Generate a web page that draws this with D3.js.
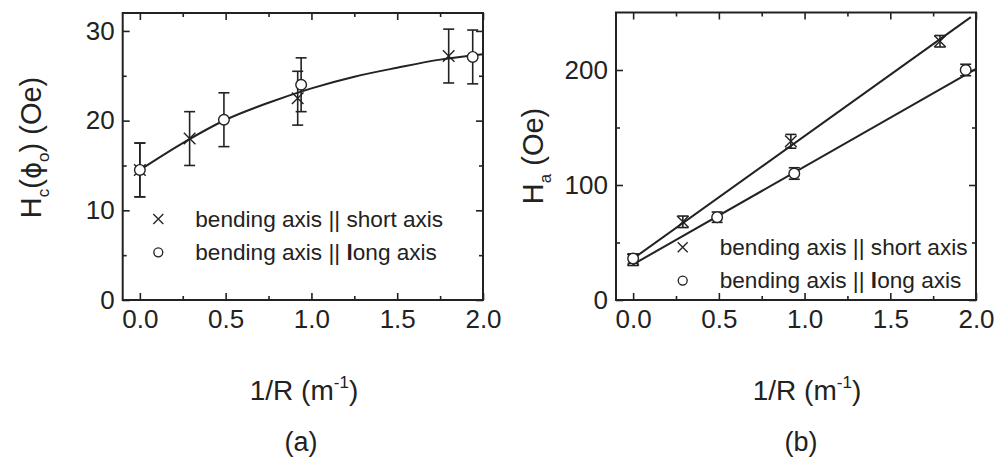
<!DOCTYPE html>
<html>
<head>
<meta charset="utf-8">
<script src="https://cdn.jsdelivr.net/npm/d3@7"></script>
<style>
  html, body { margin: 0; padding: 0; background: #fff; }
  svg { display: block; font-family: "Liberation Sans", Arial, sans-serif; }
</style>
</head>
<body>
<svg id="chart" width="995" height="459"></svg>
<script>
// ---- data: panel (a) ----
const aShortX = [0, 0.29, 0.92, 1.80];
const aShortY = [14.5, 18.0, 22.5, 27.2];
const aShortErr = [3, 3, 3, 3];
const aLongX = [0, 0.49, 0.94, 1.94];
const aLongY = [14.5, 20.1, 24.0, 27.1];
const aLongErr = [3, 3, 3, 3];
const aFitX = [0, 0.25, 0.5, 0.75, 1.0, 1.25, 1.5, 1.75, 2.0];
const aFitY = [14.5, 17.5, 20.1, 22.0, 23.6, 24.9, 25.9, 26.8, 27.4];

// ---- data: panel (b) ----
const bShortX = [0, 0.29, 0.92, 1.79];
const bShortY = [35, 68, 138, 225];
const bShortErr = [5, 5, 6, 5];
const bLongX = [0, 0.49, 0.94, 1.94];
const bLongY = [36, 72, 110, 200];
const bLongErr = [4, 4.5, 5, 5];
const bFitShortX = [0, 1.97];
const bFitShortY = [36, 246];
const bFitLongX = [0, 2.0];
const bFitLongY = [31, 201];

// ---- ticks ----
const xMajor = [0, 0.5, 1.0, 1.5, 2.0];
const xMinor = [0.25, 0.75, 1.25, 1.75];
const aYMajor = [0, 10, 20, 30];
const aYMinor = [5, 15, 25];
const bYMajor = [0, 100, 200];
const bYMinor = [50, 150];

const legendLabels = ["bending axis || short axis", "bending axis || long axis"];

const ink = "#222";
const svg = d3.select("#chart");

function zip(xs, ys, es) {
  return xs.map((x, i) => ({ x: x, y: ys[i], e: es ? es[i] : 0 }));
}

function crossPath(s) {
  return `M${-s},${-s}L${s},${s}M${-s},${s}L${s},${-s}`;
}

// the scan shows a heavier "l" in "long"
function legendText(sel, label) {
  const i = label.indexOf("|| long");
  if (i < 0) { sel.text(label); return; }
  sel.append("tspan").text(label.slice(0, i + 3));
  sel.append("tspan").attr("font-weight", "bold").text("l");
  sel.append("tspan").text(label.slice(i + 4));
}

function drawPanel(cfg) {
  const g = svg.append("g").attr("transform", `translate(${cfg.left},${cfg.top})`);
  const w = cfg.width, h = cfg.height;

  const x = d3.scaleLinear().domain([-0.1, 2.0]).range([0, w]);
  const y = d3.scaleLinear().domain(cfg.yDomain).range([h, 0]);

  const fmtX = d3.format(".1f");

  // bottom axis with labels
  const bottom = g.append("g").attr("transform", `translate(0,${h})`)
    .call(d3.axisBottom(x).tickValues(xMajor).tickSize(-7).tickPadding(10).tickFormat(fmtX));
  bottom.append("g")
    .call(d3.axisBottom(x).tickValues(xMinor).tickSize(-4).tickFormat(""));

  // top axis, ticks only
  const top = g.append("g")
    .call(d3.axisTop(x).tickValues(xMajor).tickSize(-7).tickFormat(""));
  top.append("g")
    .call(d3.axisTop(x).tickValues(xMinor).tickSize(-4).tickFormat(""));

  // left axis with labels
  const left = g.append("g")
    .call(d3.axisLeft(y).tickValues(cfg.yMajor).tickSize(-7).tickPadding(8).tickFormat(d3.format("d")));
  left.append("g")
    .call(d3.axisLeft(y).tickValues(cfg.yMinor).tickSize(-4).tickFormat(""));

  // right axis, ticks only
  const right = g.append("g").attr("transform", `translate(${w},0)`)
    .call(d3.axisRight(y).tickValues(cfg.yMajor).tickSize(-7).tickFormat(""));
  right.append("g")
    .call(d3.axisRight(y).tickValues(cfg.yMinor).tickSize(-4).tickFormat(""));

  g.selectAll(".domain").remove();
  g.selectAll(".tick line").attr("stroke", ink).attr("stroke-width", 1.6);
  g.selectAll(".tick text")
    .attr("fill", ink)
    .style("font-size", "26px")
    .style("font-family", "'Liberation Sans', Arial, sans-serif");

  // frame
  g.append("rect")
    .attr("x", 0).attr("y", 0).attr("width", w).attr("height", h)
    .attr("fill", "none").attr("stroke", ink).attr("stroke-width", 2);

  // fit lines
  const line = d3.line().x(d => x(d.x)).y(d => y(d.y)).curve(cfg.curve || d3.curveLinear);
  cfg.fits.forEach(f => {
    g.append("path")
      .datum(zip(f.x, f.y))
      .attr("fill", "none")
      .attr("stroke", ink)
      .attr("stroke-width", 2)
      .attr("d", line);
  });

  // error bars
  const cap = 5.5;
  cfg.series.forEach(s => {
    const pts = zip(s.x, s.y, s.e);
    const eb = g.append("g").attr("stroke", ink).attr("stroke-width", 1.6);
    eb.selectAll(".v").data(pts).enter().append("line")
      .attr("x1", d => x(d.x)).attr("x2", d => x(d.x))
      .attr("y1", d => y(d.y - d.e)).attr("y2", d => y(d.y + d.e));
    eb.selectAll(".t").data(pts).enter().append("line")
      .attr("x1", d => x(d.x) - cap).attr("x2", d => x(d.x) + cap)
      .attr("y1", d => y(d.y + d.e)).attr("y2", d => y(d.y + d.e));
    eb.selectAll(".b").data(pts).enter().append("line")
      .attr("x1", d => x(d.x) - cap).attr("x2", d => x(d.x) + cap)
      .attr("y1", d => y(d.y - d.e)).attr("y2", d => y(d.y - d.e));
  });

  // markers
  cfg.series.forEach(s => {
    const pts = zip(s.x, s.y, s.e);
    if (s.marker === "cross") {
      g.selectAll(null).data(pts).enter().append("path")
        .attr("transform", d => `translate(${x(d.x)},${y(d.y)})`)
        .attr("d", crossPath(5.8))
        .attr("stroke", ink).attr("stroke-width", 1.4).attr("fill", "none");
    } else {
      g.selectAll(null).data(pts).enter().append("circle")
        .attr("cx", d => x(d.x)).attr("cy", d => y(d.y)).attr("r", 5.3)
        .attr("fill", "#fff").attr("stroke", ink).attr("stroke-width", 1.4);
    }
  });

  // legend
  const lg = g.append("g").attr("transform", `translate(${cfg.legend.x},${cfg.legend.y})`);
  lg.append("path").attr("d", crossPath(5))
    .attr("stroke", ink).attr("stroke-width", 1.3).attr("fill", "none");
  lg.append("circle").attr("cx", 0).attr("cy", 33.3).attr("r", 4.5)
    .attr("fill", "#fff").attr("stroke", ink).attr("stroke-width", 1.3);
  legendLabels.forEach((lab, i) => {
    lg.append("text")
      .attr("x", 37).attr("y", 7.7 + i * 33.3)
      .attr("fill", ink)
      .style("font-size", "22.6px")
      .call(legendText, lab);
  });

  return g;
}

// ---- panel (a) ----
drawPanel({
  left: 122.7, top: 13, width: 360.3, height: 287,
  yDomain: [0, 32], yMajor: aYMajor, yMinor: aYMinor,
  curve: d3.curveMonotoneX,
  fits: [{ x: aFitX, y: aFitY }],
  series: [
    { x: aShortX, y: aShortY, e: aShortErr, marker: "cross" },
    { x: aLongX, y: aLongY, e: aLongErr, marker: "circle" }
  ],
  legend: { x: 35.6, y: 206 }
});

// ---- panel (b) ----
drawPanel({
  left: 616, top: 12.5, width: 360, height: 287.5,
  yDomain: [0, 250], yMajor: bYMajor, yMinor: bYMinor,
  fits: [{ x: bFitShortX, y: bFitShortY }, { x: bFitLongX, y: bFitLongY }],
  series: [
    { x: bShortX, y: bShortY, e: bShortErr, marker: "cross" },
    { x: bLongX, y: bLongY, e: bLongErr, marker: "circle" }
  ],
  legend: { x: 66.7, y: 234.8 }
});

// ---- axis titles ----
function xTitle(cx) {
  const t = svg.append("text")
    .attr("x", cx).attr("y", 400)
    .attr("text-anchor", "middle")
    .attr("fill", ink)
    .style("font-size", "28px");
  t.append("tspan").text("1/R (m");
  t.append("tspan").attr("dy", -12).style("font-size", "17px").text("-1");
  t.append("tspan").attr("dy", 12).text(")");
}
xTitle(304);
xTitle(807);

svg.append("text").attr("x", 301).attr("y", 451).attr("text-anchor", "middle")
  .attr("fill", ink).style("font-size", "27px").text("(a)");
svg.append("text").attr("x", 801).attr("y", 451).attr("text-anchor", "middle")
  .attr("fill", ink).style("font-size", "27px").text("(b)");

// y title (a): H_c(ϕ_o) (Oe)
const ya = svg.append("text")
  .attr("transform", "translate(41,147.5) rotate(-90)")
  .attr("text-anchor", "middle")
  .attr("fill", ink)
  .style("font-size", "29px");
ya.append("tspan").text("H");
ya.append("tspan").attr("dy", 8).style("font-size", "17px").text("c");
ya.append("tspan").attr("dy", -8).text("(");
ya.append("tspan").style("font-family", "'DejaVu Sans', sans-serif").style("font-size", "26px").text("ϕ");
ya.append("tspan").attr("dy", 8).style("font-size", "17px").text("o");
ya.append("tspan").attr("dy", -8).text(") (Oe)");

// y title (b): H_a (Oe)
const yb = svg.append("text")
  .attr("transform", "translate(543,156) rotate(-90)")
  .attr("text-anchor", "middle")
  .attr("fill", ink)
  .style("font-size", "29px");
yb.append("tspan").text("H");
yb.append("tspan").attr("dy", 8).style("font-size", "17px").text("a");
yb.append("tspan").attr("dy", -8).text(" (Oe)");
</script>
</body>
</html>
